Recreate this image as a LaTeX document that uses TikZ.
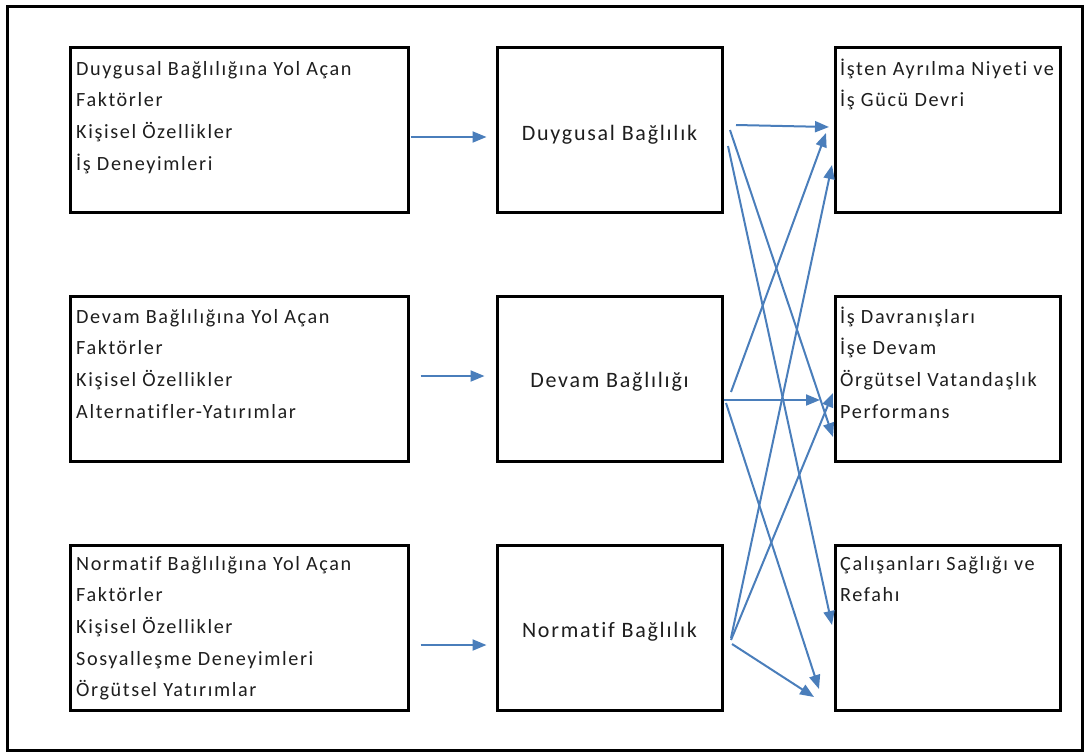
\documentclass[tikz,border=0pt]{standalone}
\usepackage{fontspec}
\setmainfont{Carlito}[LetterSpace=8,Ligatures=NoCommon]
\usetikzlibrary{arrows.meta,calc}

\definecolor{arrowblue}{RGB}{74,126,187}
\definecolor{ink}{RGB}{30,30,30}

\begin{document}
\begin{tikzpicture}[x=1pt,y=-1pt,
  frame/.style={draw=black,line width=3pt},
  box/.style={draw=black,line width=3pt,minimum width=#1,minimum height=165pt,inner sep=0pt,fill=white},
  % multi-line texts are placed by the baseline of their last line
  txt/.style={anchor=base west,align=left,inner sep=0pt,text=ink,font=\fontsize{20.2}{31.7}\selectfont},
  midtxt/.style={inner sep=0pt,text=ink,font=\fontsize{22}{26}\selectfont},
  arr/.style={draw=arrowblue,line width=2pt,-{Triangle[length=14pt,width=11pt]}}
]
\path[use as bounding box] (0,0) rectangle (1084,753);
\draw[frame] (7,6) rectangle (1082,750);

% antecedent boxes
\node[box=338pt] (lf1) at (239,130) {};
\node[box=338pt] (lf2) at (239,379) {};
\node[box=338pt] (lf3) at (239,627.5) {};

% commitment boxes
\node[box=225pt] (m1) at (609.5,130) {};
\node[box=225pt] (m2) at (609.5,379) {};
\node[box=225pt] (m3) at (609.5,627.5) {};
\node[midtxt] (mt1) at ($(m1.center)+(0,5)$) {Duygusal Bağlılık};
\node[midtxt] (mt2) at ($(m2.center)+(0,3)$) {Devam Bağlılığı};
\node[midtxt] (mt3) at ($(m3.center)+(0,4)$) {Normatif Bağlılık};

% outcome boxes
\node[box=225pt] (r1) at (947.5,130) {};
\node[box=225pt] (r2) at (947.5,379) {};
\node[box=225pt] (r3) at (947.5,627.5) {};

% box texts
\node[txt] (tl1) at (76,170.1) {Duygusal Bağlılığına Yol Açan\\Faktörler\\Kişisel Özellikler\\İş Deneyimleri};
\node[txt] (tl2) at (76,418.1) {Devam Bağlılığına Yol Açan\\Faktörler\\Kişisel Özellikler\\Alternatifler-Yatırımlar};
\node[txt] (tl3) at (76,696.8) {Normatif Bağlılığına Yol Açan\\Faktörler\\Kişisel Özellikler\\Sosyalleşme Deneyimleri\\Örgütsel Yatırımlar};
\node[txt] (tr1) at (840,106.7) {İşten Ayrılma Niyeti ve\\İş Gücü Devri};
\node[txt] (tr2) at (840,418.1) {İş Davranışları\\İşe Devam\\Örgütsel Vatandaşlık\\Performans};
\node[txt] (tr3) at (840,601.7) {Çalışanları Sağlığı ve\\Refahı};

% antecedents -> commitment
\draw[arr] ($(lf1.east)+(1,7)$) -- ($(m1.west)+(-9,7)$);
\draw[arr] ($(lf2.east)+(11,-3)$) -- ($(m2.west)+(-11,-3)$);
\draw[arr] ($(lf3.east)+(11,17.5)$) -- ($(m3.west)+(-9,17.5)$);

% commitment -> outcomes
\draw[arr] ($(m1.east)+(12.5,-5)$) -- ($(r1.west)+(-4.5,-3)$);
\draw[arr] ($(m1.east)+(6.5,0)$) -- ($(r2.west)+(-0.5,58)$);
\draw[arr] ($(m1.east)+(4.5,16)$) -- ($(r3.west)+(-1.5,-2.5)$);
\draw[arr] ($(m2.east)+(7.5,13)$) -- ($(r1.west)+(-7.5,3)$);
\draw[arr] ($(m2.east)+(0,21)$) -- ($(r2.west)+(-13.5,21)$);
\draw[arr] ($(m2.east)+(2.5,24)$) -- ($(r3.west)+(-14.5,61.5)$);
\draw[arr] ($(m3.east)+(7.5,10.5)$) -- ($(r1.west)+(-1.5,35)$);
\draw[arr] ($(m3.east)+(7.5,12.5)$) -- ($(r2.west)+(-0.5,14)$);
\draw[arr] ($(m3.east)+(8.5,16.5)$) -- ($(r3.west)+(-19.5,69.5)$);
\end{tikzpicture}
\end{document}
